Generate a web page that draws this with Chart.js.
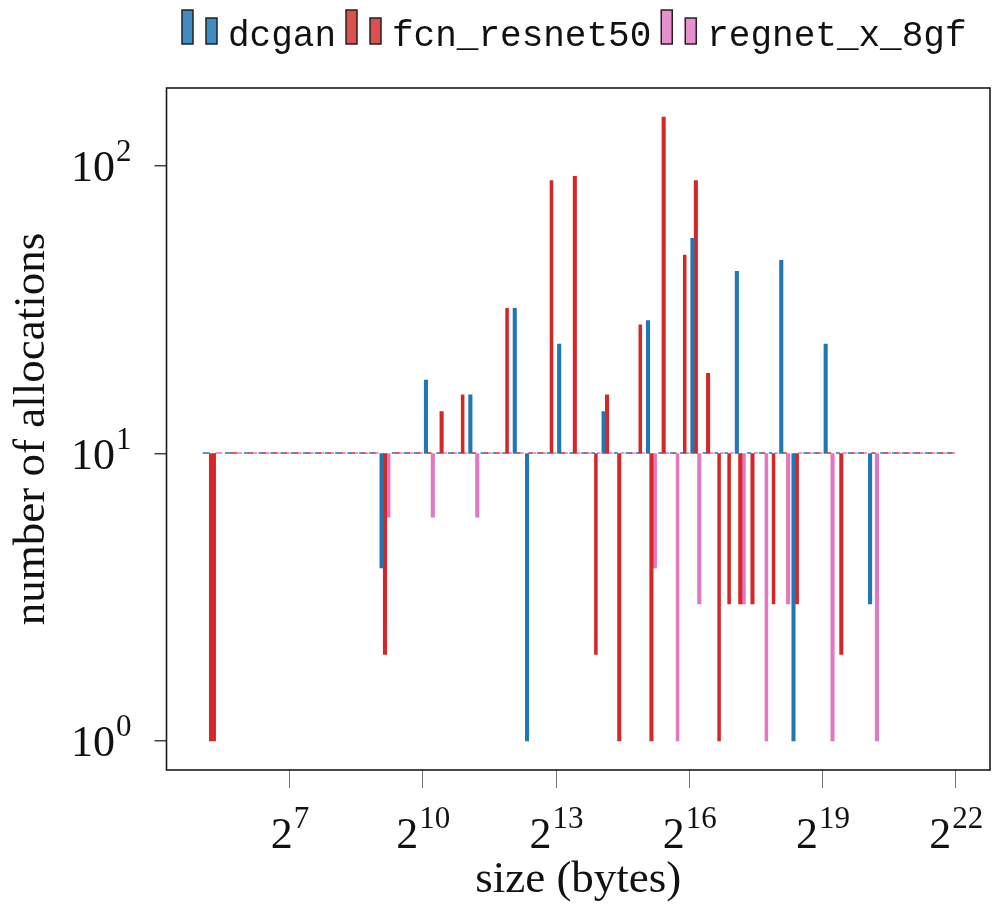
<!DOCTYPE html>
<html>
<head>
<meta charset="utf-8">
<script src="https://cdn.jsdelivr.net/npm/chart.js@4.4.0/dist/chart.umd.min.js"></script>
<style>
  body { margin: 0; background: #fff; }
  #wrap { width: 992px; height: 916px; }
</style>
</head>
<body>
<div id="wrap"><canvas id="my_chart"></canvas></div>
<script>
// allocation size bins (bytes), lower edge of each bin
const sizes = [
  32, 48,
  64, 80, 96, 112,
  128, 160, 192, 224,
  256, 320, 384, 448,
  512, 640, 768, 896,
  1024, 1280, 1536, 1792,
  2048, 2560, 3072, 3584,
  4096, 5120, 6144, 7168,
  8192, 10240, 12288, 14336,
  16384, 20480, 24576, 28672,
  32768, 40960, 49152, 57344,
  65536, 81920, 98304, 114688,
  131072, 163840, 196608, 229376,
  262144, 327680, 393216, 458752,
  524288, 655360, 786432, 917504,
  1048576, 1310720, 1572864, 1835008,
  2097152, 2621440, 3145728, 3670016
];
const upperEdge = 4194304;

// number of allocations per bin (0 = none)
const dcgan = [
  0, 0,
  0, 0, 0, 0,
  0, 0, 0, 0,
  0, 0, 0, 0,
  4, 0, 0, 0,
  18, 0, 0, 0,
  16, 0, 0, 0,
  32, 1, 0, 0,
  24, 0, 0, 0,
  14, 0, 0, 0,
  29, 0, 0, 0,
  56, 0, 0, 0,
  43, 0, 0, 0,
  47, 1, 0, 0,
  24, 0, 0, 0,
  3, 0, 0, 0,
  0, 0, 0, 0
];
const fcn_resnet50 = [
  1, 0,
  0, 0, 0, 0,
  0, 0, 0, 0,
  0, 0, 0, 0,
  2, 0, 0, 0,
  0, 14, 0, 16,
  0, 0, 0, 32,
  0, 0, 0, 89,
  0, 92, 0, 2,
  16, 1, 0, 28,
  1, 148, 0, 49,
  89, 19, 1, 3,
  3, 3, 0, 3,
  0, 3, 0, 0,
  0, 2, 0, 0,
  0, 0, 0, 0,
  0, 0, 0, 0
];
const regnet_x_8gf = [
  0, 0,
  0, 0, 0, 0,
  0, 0, 0, 0,
  0, 0, 0, 0,
  6, 0, 0, 0,
  6, 0, 0, 0,
  6, 0, 0, 0,
  0, 0, 0, 0,
  0, 0, 0, 0,
  0, 0, 0, 0,
  4, 0, 1, 0,
  3, 0, 0, 0,
  3, 0, 1, 0,
  3, 0, 0, 0,
  1, 0, 0, 0,
  1, 0, 0, 0,
  0, 0, 0, 0
];

const seriesNames = ["dcgan", "fcn_resnet50", "regnet_x_8gf"];
const seriesColors = ["#1f77b4", "#d62728", "#e377c2"];
const legendColors = ["#3f8bc3", "#de5050", "#e890cf"];
const xTicks = [128, 1024, 8192, 65536, 524288, 4194304]; // 2^7 .. 2^22
const yTicks = [1, 10, 100];
const baseline = 10;

// bar group sits at the middle of 80% of each bin
const centers = sizes.map((s, i) => {
  const next = i < sizes.length - 1 ? sizes[i + 1] : upperEdge;
  return s + 0.4 * (next - s);
});

function makeSet(name, values, color) {
  return {
    label: name,
    data: values.map((v, i) => ({ x: centers[i], y: [baseline, v > 0 ? v : baseline] })),
    backgroundColor: color,
    borderWidth: 0,
    minBarLength: 1,
    barThickness: "flex",
    categoryPercentage: 0.85,
    barPercentage: 1,
  };
}

const serif = '"Liberation Serif", "DejaVu Serif", serif';

const frameAndLabels = {
  id: "frameAndLabels",
  afterDraw(chart) {
    const c = chart.ctx;
    const a = chart.chartArea;
    c.save();
    // frame
    c.strokeStyle = "#1a1a1a";
    c.lineWidth = 1.6;
    c.strokeRect(a.left, a.top, a.right - a.left, a.bottom - a.top);

    // tick labels with superscript exponent
    c.fillStyle = "#111";
    c.textBaseline = "alphabetic";
    const baseFont = "44px " + serif;
    const supFont = "31px " + serif;
    const xs = chart.scales.x;
    xs.ticks.forEach(t => {
      const px = xs.getPixelForValue(t.value);
      const e = String(Math.round(Math.log2(t.value)));
      c.font = baseFont;
      const wb = c.measureText("2").width;
      c.font = supFont;
      const we = c.measureText(e).width;
      const x0 = px - (wb + we) / 2;
      c.font = baseFont;
      c.textAlign = "left";
      c.fillText("2", x0, a.bottom + 78);
      c.font = supFont;
      c.fillText(e, x0 + wb + 1, a.bottom + 58);
    });
    const ys = chart.scales.y;
    ys.ticks.forEach(t => {
      const py = ys.getPixelForValue(t.value);
      const e = String(Math.round(Math.log10(t.value)));
      c.font = supFont;
      const we = c.measureText(e).width;
      const xr = a.left - 35;
      c.textAlign = "left";
      c.fillText(e, xr - we, py - 5);
      c.font = baseFont;
      c.textAlign = "right";
      c.fillText("10", xr - we - 1, py + 15);
    });

    // legend: two small bars per entry, then the name
    c.font = '36px "Liberation Mono", "DejaVu Sans Mono", monospace';
    c.textAlign = "left";
    const gap = 10;
    const widths = seriesNames.map(n => 46 + c.measureText(n).width);
    const total = widths.reduce((p, q) => p + q, 0) + gap * (seriesNames.length - 1);
    let x = (a.left + a.right) / 2 - total / 2 - 4;
    seriesNames.forEach((n, i) => {
      c.fillStyle = legendColors[i];
      c.strokeStyle = "#222";
      c.lineWidth = 1.5;
      c.fillRect(x, 10, 11, 34);
      c.strokeRect(x, 10, 11, 34);
      c.fillRect(x + 24, 18, 11, 26);
      c.strokeRect(x + 24, 18, 11, 26);
      c.fillStyle = "#111";
      c.fillText(n, x + 46, 46);
      x += widths[i] + gap;
    });
    c.restore();
  }
};

const ctx = document.getElementById("my_chart");
new Chart(ctx, {
  type: "bar",
  data: {
    datasets: [
      makeSet(seriesNames[0], dcgan, seriesColors[0]),
      makeSet(seriesNames[1], fcn_resnet50, seriesColors[1]),
      makeSet(seriesNames[2], regnet_x_8gf, seriesColors[2]),
    ],
  },
  options: {
    responsive: true,
    maintainAspectRatio: false,
    animation: false,
    layout: { padding: { top: 88, right: 2, left: 0, bottom: 0 } },
    plugins: {
      legend: { display: false },
      tooltip: { enabled: false },
    },
    scales: {
      x: {
        type: "logarithmic",
        min: Math.pow(2, 4.228),
        max: Math.pow(2, 22.77),
        offset: false,
        border: { display: false },
        grid: {
          offset: false,
          drawOnChartArea: false,
          drawTicks: true,
          tickLength: 18,
          color: "#777",
          lineWidth: 1,
        },
        ticks: { autoSkip: false, callback: () => "" },
        afterBuildTicks: s => { s.ticks = xTicks.map(v => ({ value: v })); },
        afterFit: s => { s.height = 146; },
        title: {
          display: true,
          text: "size (bytes)",
          color: "#111",
          font: { family: serif, size: 45, lineHeight: 1 },
          padding: { top: 0, bottom: 13 },
        },
      },
      y: {
        type: "logarithmic",
        min: 0.793,
        max: 186.7,
        border: { display: false },
        grid: {
          drawOnChartArea: false,
          drawTicks: true,
          tickLength: 12,
          color: "#444",
          lineWidth: 1.5,
        },
        ticks: { autoSkip: false, callback: () => "" },
        afterBuildTicks: s => { s.ticks = yTicks.map(v => ({ value: v })); },
        afterFit: s => { s.width = 166.5; },
        title: {
          display: true,
          text: "number of allocations",
          color: "#111",
          font: { family: serif, size: 45, lineHeight: 1 },
          padding: { top: 10, bottom: 0 },
        },
      },
    },
  },
  plugins: [frameAndLabels],
});
</script>
</body>
</html>
